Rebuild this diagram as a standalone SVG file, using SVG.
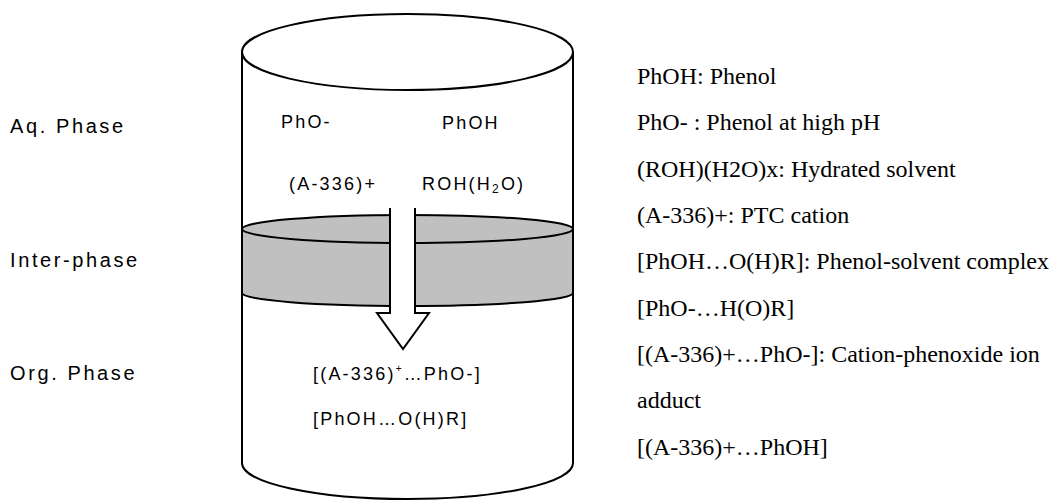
<svg xmlns="http://www.w3.org/2000/svg" width="1050" height="503" viewBox="0 0 1050 503">
<style>
.ln{fill:none;stroke:#000;stroke-width:2}
.lab{font-family:"Liberation Sans",Arial,sans-serif;font-size:20px;letter-spacing:2.6px;fill:#000}
.ct{font-family:"Liberation Sans",Arial,sans-serif;font-size:18px;letter-spacing:2.2px;fill:#000}
.lg{font-family:"Liberation Serif","Times New Roman",serif;font-size:24px;fill:#000}
</style>
<rect width="1050" height="503" fill="#fff"/>
<g id="cylinder">
  <ellipse cx="407.5" cy="52" rx="165.5" ry="38" fill="#fff" stroke="#000" stroke-width="2"/>
  <path d="M242,229 L242,293 A165.5,13 0 0 0 573,293 L573,229 Z" fill="#c0c0c0"/>
  <path class="ln" d="M242,293 A165.5,13 0 0 0 573,293"/>
  <ellipse cx="407.5" cy="229" rx="165.5" ry="14" fill="#c0c0c0" stroke="#000" stroke-width="2"/>
  <path class="ln" d="M242,52 L242,463 A165.5,36 0 0 0 573,463 L573,52"/>
</g>
<g id="arrow">
  <path d="M390,208 L390,313 L377,313 L403,349 L429,313 L415,313 L415,208 Z" fill="#fff"/>
  <path class="ln" d="M390,208 L390,313 L377,313 L403,349 L429,313 L415,313 L415,208"/>
</g>
<g id="phase-labels">
  <text class="lab" x="10" y="133">Aq. Phase</text>
  <text class="lab" x="10" y="267">Inter-phase</text>
  <text class="lab" x="10" y="380">Org. Phase</text>
</g>
<g id="aq-species">
  <text class="ct" x="281" y="128">PhO-</text>
  <text class="ct" x="442" y="129">PhOH</text>
  <text class="ct" x="289" y="190">(A-336)+</text>
  <text class="ct" x="422" y="190">ROH(H<tspan font-size="12" dy="3">2</tspan><tspan dy="-3">O)</tspan></text>
</g>
<g id="org-species">
  <text class="ct" x="313" y="380">[(A-336)<tspan font-size="10" dy="-8">+</tspan><tspan dy="8">…PhO-]</tspan></text>
  <text class="ct" x="313" y="425">[PhOH…O(H)R]</text>
</g>
<g id="legend">
  <text class="lg" x="637" y="84">PhOH: Phenol</text>
  <text class="lg" x="637" y="130">PhO- : Phenol at high pH</text>
  <text class="lg" x="637" y="177">(ROH)(H2O)x: Hydrated solvent</text>
  <text class="lg" x="637" y="223">(A-336)+: PTC cation</text>
  <text class="lg" x="637" y="269">[PhOH…O(H)R]: Phenol-solvent complex</text>
  <text class="lg" x="637" y="316">[PhO-…H(O)R]</text>
  <text class="lg" x="637" y="362">[(A-336)+…PhO-]: Cation-phenoxide ion</text>
  <text class="lg" x="637" y="408">adduct</text>
  <text class="lg" x="637" y="455">[(A-336)+…PhOH]</text>
</g>
</svg>
